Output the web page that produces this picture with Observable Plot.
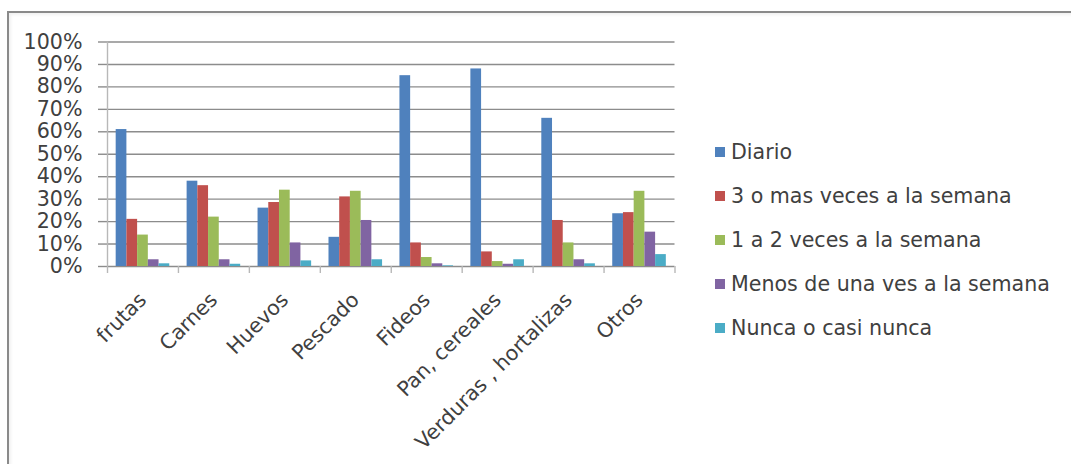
<!DOCTYPE html>
<html>
<head>
<meta charset="utf-8">
<script src="https://cdn.jsdelivr.net/npm/d3@7"></script>
<script src="https://cdn.jsdelivr.net/npm/@observablehq/plot@0.6"></script>
<style>
  html, body { margin: 0; padding: 0; background: #fff; overflow: hidden; }
  #wrap { position: relative; width: 1071px; height: 464px; overflow: hidden; font-family: "DejaVu Sans", sans-serif; color: #404040; }
  #chart { position: absolute; left: 0; top: 0; }
  #frame { position: absolute; left: 7px; top: 11px; width: 1100px; height: 460px; border: 2px solid #8a8a8a; border-right: none; border-bottom: none; box-shadow: inset 2px 2px 3px rgba(0,0,0,0.06); pointer-events: none; }
  #legend { position: absolute; left: 715px; top: 130px; font-size: 20.6px; }
  .row { display: flex; align-items: center; height: 44px; white-space: nowrap; }
  .sw { width: 10px; height: 10px; margin-right: 6px; flex: none; }
</style>
</head>
<body>
<div id="wrap">
  <div id="chart"></div>
  <div id="legend"></div>
  <div id="frame"></div>
</div>
<script>
// Food groups and how often each one is eaten (share of respondents)
const categories = ["frutas", "Carnes", "Huevos", "Pescado", "Fideos", "Pan, cereales", "Verduras , hortalizas", "Otros"];
const series = ["Diario", "3 o mas veces a la semana", "1 a 2 veces a la semana", "Menos de una ves a la semana", "Nunca o casi nunca"];
const colors = ["#4F81BD", "#C0504D", "#9BBB59", "#8064A2", "#4BACC6"];

const diario   = [0.61, 0.38, 0.26, 0.13, 0.85, 0.88, 0.66, 0.235];
const tresOMas = [0.21, 0.36, 0.285, 0.31, 0.105, 0.065, 0.205, 0.24];
const unoADos  = [0.14, 0.22, 0.34, 0.335, 0.04, 0.022, 0.105, 0.335];
const menos    = [0.03, 0.03, 0.105, 0.205, 0.012, 0.01, 0.03, 0.153];
const nunca    = [0.012, 0.01, 0.025, 0.03, 0.003, 0.03, 0.012, 0.053];

const yTicks = [0, 0.1, 0.2, 0.3, 0.4, 0.5, 0.6, 0.7, 0.8, 0.9, 1];
const yTickLabels = ["0%", "10%", "20%", "30%", "40%", "50%", "60%", "70%", "80%", "90%", "100%"];

const values = [diario, tresOMas, unoADos, menos, nunca];

// Position of each series inside a category slot (slot = 1 unit on x)
const slot = d3.scaleBand().domain(series).range([0, 1]).paddingInner(0).paddingOuter(0.81);

const rows = [];
categories.forEach((cat, i) => {
  series.forEach((s, j) => {
    rows.push({cat, series: s, value: values[j][i], x1: i + slot(s), x2: i + slot(s) + slot.bandwidth()});
  });
});

const chart = Plot.plot({
  width: 1071,
  height: 464,
  marginLeft: 107,
  marginRight: 396.5,
  marginTop: 41.5,
  marginBottom: 198,
  x: {domain: [0, categories.length], axis: null},
  y: {domain: [0, 1], axis: null},
  color: {domain: series, range: colors},
  style: {background: "transparent", fontFamily: "DejaVu Sans, sans-serif", fontSize: "20.6px", color: "#404040", overflow: "visible"},
  marks: [
    Plot.ruleY(yTicks, {stroke: "#8c8c8c", strokeWidth: 1.4}),
    Plot.axisY({ticks: yTicks, tickFormat: (d) => yTickLabels[yTicks.indexOf(d)], tickSize: 9, tickPadding: 16, stroke: "#8c8c8c", strokeWidth: 1.4, fill: "#404040", fontSize: 20.6, label: null}),
    Plot.ruleX([0], {y1: 0, y2: 1, stroke: "#b8b8b8", strokeWidth: 1.4}),
    Plot.axisX({ticks: d3.range(categories.length + 1), tickFormat: () => "", tickSize: 7, stroke: "#b8b8b8", strokeWidth: 1.4, label: null}),
    Plot.rectY(rows, {x1: "x1", x2: "x2", y1: 0, y2: "value", fill: "series"}),
    Plot.text(categories, {x: (d, i) => i + 0.5, y: 0, text: (d) => d, rotate: -45, textAnchor: "end", lineAnchor: "middle", dy: 30, fill: "#404040", fontSize: 20.6})
  ]
});
document.getElementById("chart").appendChild(chart);

// Legend
const legend = document.getElementById("legend");
series.forEach((s, j) => {
  const row = document.createElement("div");
  row.className = "row";
  const sw = document.createElement("span");
  sw.className = "sw";
  sw.style.background = colors[j];
  const label = document.createElement("span");
  label.textContent = s;
  row.appendChild(sw);
  row.appendChild(label);
  legend.appendChild(row);
});
</script>
</body>
</html>
